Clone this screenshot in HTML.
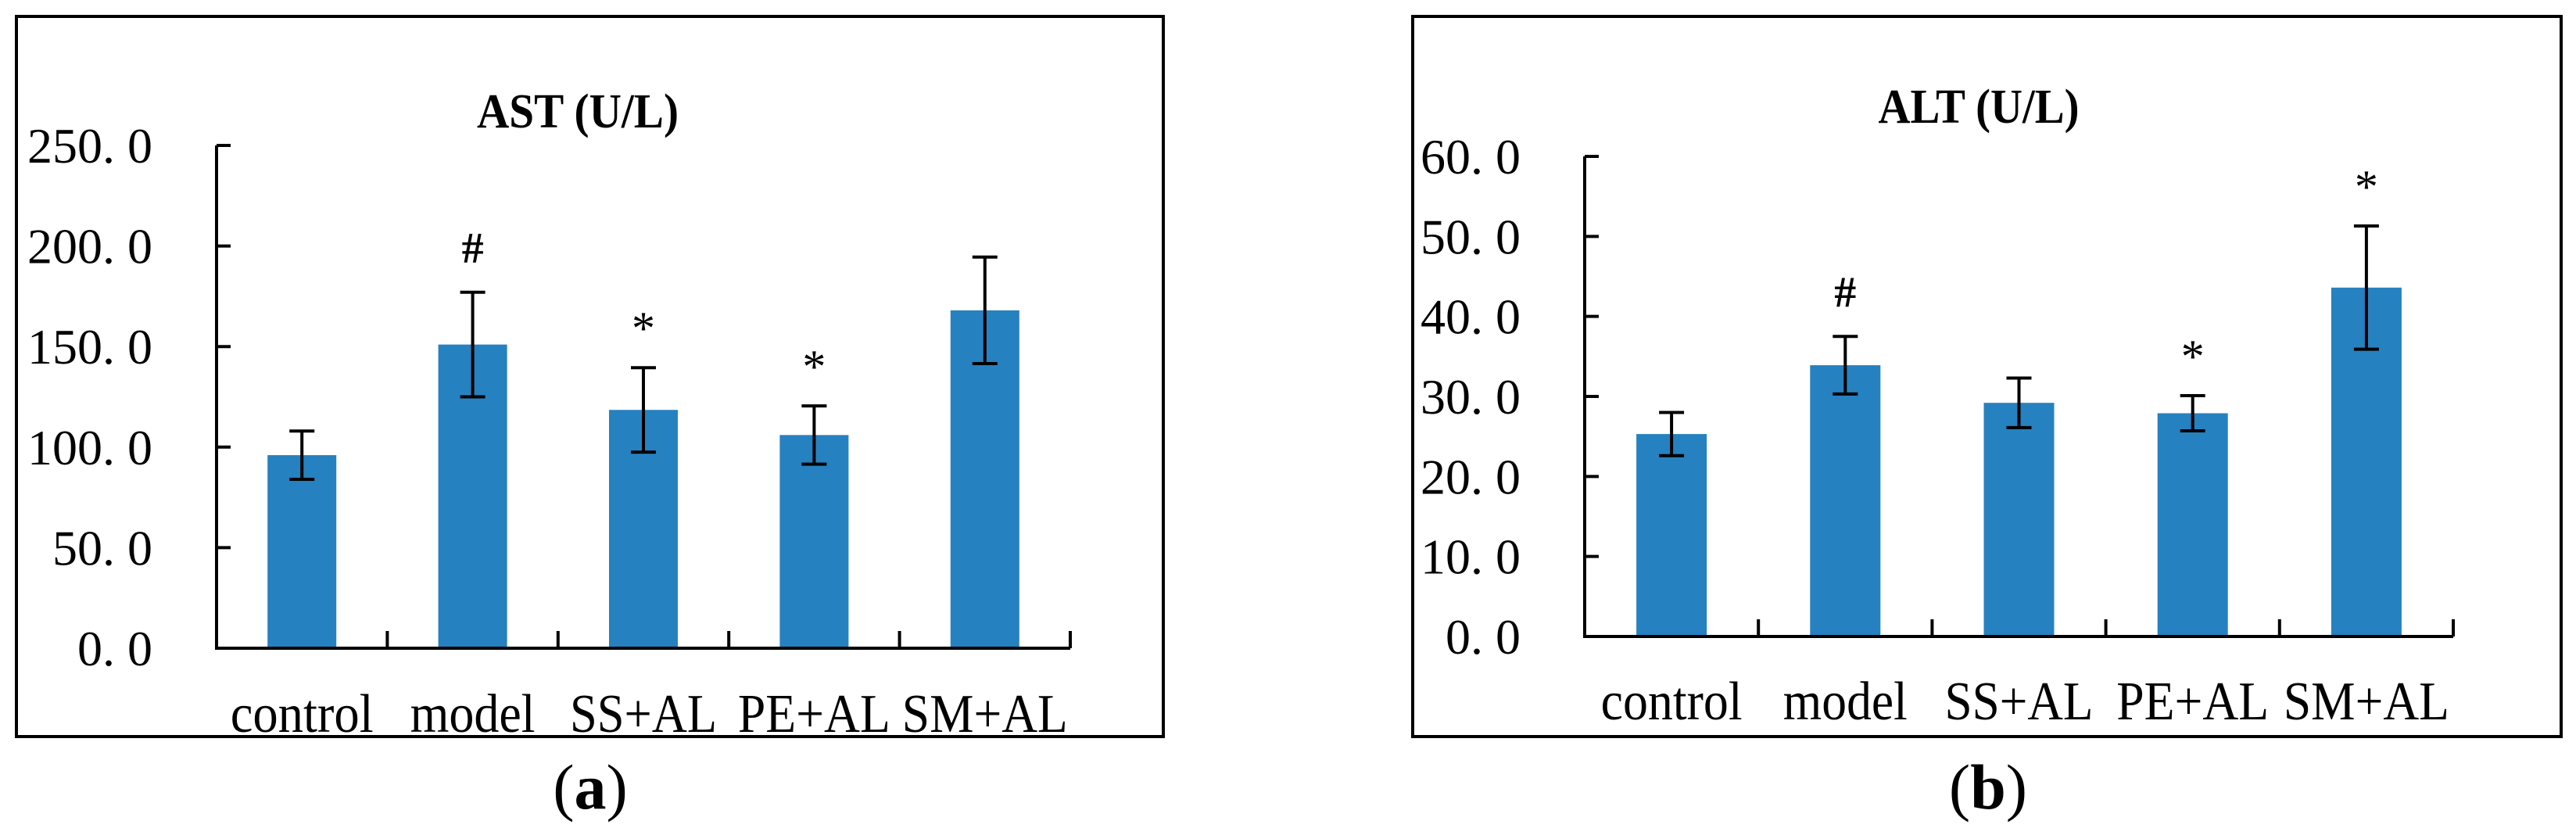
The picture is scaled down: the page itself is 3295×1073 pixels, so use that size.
<!DOCTYPE html>
<html><head><meta charset="utf-8">
<style>
html,body{margin:0;padding:0;background:#fff;}
svg{display:block;font-family:"Liberation Serif",serif;}
</style></head>
<body>
<svg id="fig" width="3295" height="1073" viewBox="0 0 3295 1073" xmlns="http://www.w3.org/2000/svg">
  <rect x="21" y="21" width="1467" height="921" fill="none" stroke="#000" stroke-width="4"/>
  <rect x="1807" y="21" width="1469" height="921" fill="none" stroke="#000" stroke-width="4"/>
  <g id="panelA"></g>
  <g id="panelB"></g>
  <text x="755" y="1034" font-size="82" text-anchor="middle">(<tspan font-weight="bold">a</tspan>)</text>
  <text x="2543" y="1034" font-size="82" text-anchor="middle">(<tspan font-weight="bold">b</tspan>)</text>
</svg>
<script>
const categories = ["control","model","SS+AL","PE+AL","SM+AL"];
const astValues = [96, 151, 118.5, 106, 168];
const astErrors = [12, 26, 21, 14.5, 26.5];
const astMarks = ["", "#", "*", "*", ""];
const astTicks = ["0. 0","50. 0","100. 0","150. 0","200. 0","250. 0"];
const altValues = [25.3, 33.9, 29.2, 27.9, 43.6];
const altErrors = [2.7, 3.6, 3.1, 2.2, 7.7];
const altMarks = ["", "#", "", "*", "*"];
const altTicks = ["0. 0","10. 0","20. 0","30. 0","40. 0","50. 0","60. 0"];

const NS = "http://www.w3.org/2000/svg";
function mk(parent, tag, attrs){
  const e = document.createElementNS(NS, tag);
  for (const k in attrs) e.setAttribute(k, attrs[k]);
  parent.appendChild(e);
  return e;
}
function drawPanel(g, cfg){
  const yScale = v => cfg.y0 - (v - 0) / cfg.max * (cfg.y0 - cfg.yTop);
  const catW = (cfg.xEnd - cfg.x0) / cfg.values.length;
  const xCenter = i => cfg.x0 + catW * (i + 0.5);
  const t = mk(g, "text", {x: cfg.titleX, y: cfg.titleY, "font-size": 62, "font-weight": "bold", "text-anchor": "middle", textLength: cfg.titleW, lengthAdjust: "spacingAndGlyphs"});
  
  
  t.textContent = cfg.title;
  cfg.values.forEach((v, i) => {
    const r = mk(g, "rect", {x: xCenter(i) - cfg.barW/2, y: yScale(v), width: cfg.barW, height: yScale(0) - yScale(v), fill: "#2681c0"});
    
    
    const e = cfg.errors[i];
    const eg = mk(g, "g", {stroke: "#000", "stroke-width": 4});
    
    
    const cx = xCenter(i), yt = yScale(v + e), yb = yScale(v - e);
    mk(eg, "line", {x1: cx, x2: cx, y1: yt, y2: yb});
    mk(eg, "line", {x1: cx - 16, x2: cx + 16, y1: yt, y2: yt});
    mk(eg, "line", {x1: cx - 16, x2: cx + 16, y1: yb, y2: yb});
    if (cfg.marks[i]) {
      const m = mk(g, "text", {x: cx, y: yt - (cfg.marks[i] === "#" ? 38 : 30), "font-size": cfg.marks[i] === "#" ? 56 : 60, "text-anchor": "middle", "font-weight": cfg.marks[i] === "#" ? "bold" : "normal"});
      
      
      m.textContent = cfg.marks[i];
    }
    const lab = mk(g, "text", {x: cx, y: cfg.labY, "font-size": 70, "text-anchor": "middle", textLength: cfg.labW[i], lengthAdjust: "spacingAndGlyphs"});
    
    
    lab.textContent = categories[i];
  });
  const ax = mk(g, "path", {d: `M${cfg.x0},${cfg.yTop} L${cfg.x0},${cfg.y0} L${cfg.xEnd},${cfg.y0}`, fill: "none", stroke: "#000", "stroke-width": 4});
  
  
  cfg.ticks.forEach((lbl, i) => {
    const v = cfg.max * i / (cfg.ticks.length - 1);
    const y = yScale(v);
    mk(g, "line", {x1: cfg.x0, x2: cfg.x0 + 18, y1: y, y2: y, stroke: "#000", "stroke-width": 4});
    const tl = mk(g, "text", {x: cfg.tickX, y: y + 22, "font-size": 64, "text-anchor": "end"});
    
    
    tl.textContent = lbl;
  });
  for (let i = 1; i <= cfg.values.length; i++) {
    const x = cfg.x0 + catW * i;
    mk(g, "line", {x1: x, x2: x, y1: cfg.y0, y2: cfg.y0 - 22, stroke: "#000", "stroke-width": 4});
  }
}
drawPanel(document.getElementById("panelA"), {
  values: astValues, errors: astErrors, marks: astMarks, ticks: astTicks, max: 250,
  x0: 277, xEnd: 1369, yTop: 186, y0: 829, barW: 88, tickX: 195,
  title: "AST (U/L)", titleX: 739, titleY: 163, titleW: 258,
  labY: 936, labW: [183, 160, 188, 195, 212]
});
drawPanel(document.getElementById("panelB"), {
  values: altValues, errors: altErrors, marks: altMarks, ticks: altTicks, max: 60,
  x0: 2027, xEnd: 3138, yTop: 200, y0: 814, barW: 90, tickX: 1945,
  title: "ALT (U/L)", titleX: 2531, titleY: 157, titleW: 257,
  labY: 920, labW: [181, 159, 190, 195, 212]
});
</script>
</body></html>
